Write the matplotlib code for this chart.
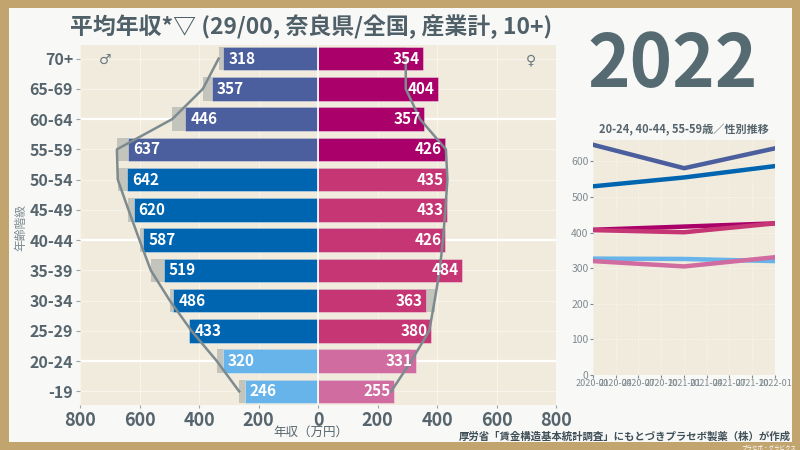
import matplotlib
matplotlib.use("Agg")
import matplotlib.pyplot as plt
import matplotlib.dates as mdates
from matplotlib.patches import Rectangle
import numpy as np
import pandas as pd

plt.rcParams['font.family'] = ['Noto Sans CJK JP', 'DejaVu Sans']

# --- data ---
ages = ['70+', '65-69', '60-64', '55-59', '50-54', '45-49', '40-44',
        '35-39', '30-34', '25-29', '20-24', '-19']
male = [318, 357, 446, 637, 642, 620, 587, 519, 486, 433, 320, 246]
female = [354, 404, 357, 426, 435, 433, 426, 484, 363, 380, 331, 255]
# national (全国) values, grey bars and grey outline
male_nat = [334, 387, 490, 676, 673, 637, 600, 562, 498, 425, 340, 265]
female_nat = [295, 295, 343, 430, 435, 428, 420, 409, 392, 374, 313, 246]

trend_dates = ['2020-01-01', '2021-01-01', '2022-01-01']
m_55_59 = [647, 581, 637]
m_40_44 = [530, 555, 587]
m_20_24 = [327, 326, 320]
f_55_59 = [408, 417, 426]
f_40_44 = [407, 401, 426]
f_20_24 = [320, 305, 331]

# colours per age group
male_cols = ['#4b5e9d'] * 4 + ['#0065b0'] * 6 + ['#66b4ea'] * 2
female_cols = ['#a9006a'] * 4 + ['#c63674'] * 6 + ['#d06ca0'] * 2

text_col = '#56656d'
bg_axes = '#f1ebdd'

fig = plt.figure(figsize=(8, 4.5), dpi=100)
fig.patch.set_facecolor('#c2a46e')
fig.patches.append(Rectangle((0.011, 0.018), 0.979, 0.965, transform=fig.transFigure,
                             facecolor='#f8f8f6', edgecolor='none', zorder=-10))

# --- main pyramid ---
ax = fig.add_axes([0.1, 0.1, 0.595, 0.8])
ax.set_facecolor(bg_axes)
y = np.arange(len(ages))
h = 0.78

for yy in y:
    ax.axhline(yy, color='#f7f4ec', lw=0.8, zorder=0)
for xx in range(-800, 801, 200):
    ax.axvline(xx, color='#f7f4ec', lw=0.8, zorder=0)
for yy in (2, 6, 10):
    ax.axhline(yy, color='white', lw=1.6, zorder=0.5)

ax.barh(y, [-v for v in male_nat], height=h, color='#c3c4bc', zorder=1)
ax.barh(y, female_nat, height=h, color='#c3c4bc', zorder=1)
ax.barh(y, [-v for v in male], height=h, color=male_cols, edgecolor='#ffffff80', lw=0.5, zorder=2)
ax.barh(y, female, height=h, color=female_cols, edgecolor='#ffffff80', lw=0.5, zorder=2)
ax.axvline(0, color='white', lw=1.2, zorder=2.5)

ax.plot([-v for v in male_nat], y, color='#7d8b8f', lw=1.8, zorder=3)
ax.plot(female_nat, y, color='#7d8b8f', lw=1.8, zorder=3)

for yy, m, f in zip(y, male, female):
    ax.text(-m + 17, yy, str(m), color='white', fontsize=11, fontweight='bold',
            ha='left', va='center', zorder=4)
    ax.text(f - 12, yy, str(f), color='white', fontsize=11, fontweight='bold',
            ha='right', va='center', zorder=4)

ax.set_xlim(-800, 800)
ax.set_ylim(len(ages) - 0.55, -0.45)
ax.set_yticks(y)
ax.set_yticklabels(ages)
ax.set_xticks(range(-800, 801, 200))
ax.set_xticklabels([str(abs(v)) for v in range(-800, 801, 200)])
ax.tick_params(axis='y', labelsize=11.5, colors=text_col, length=3, color='#9aa5aa', pad=2)
ax.tick_params(axis='x', labelsize=13, colors=text_col, length=2, color='#9aa5aa', pad=2)
for lab in ax.get_yticklabels() + ax.get_xticklabels():
    lab.set_fontweight('bold')
for s in ax.spines.values():
    s.set_visible(False)

ax.text(-715, 0.05, '♂', fontsize=10, color='#6a7a80', ha='center', va='center',
        family=['DejaVu Sans'])
ax.text(715, 0.05, '♀', fontsize=10, color='#6a7a80', ha='center', va='center',
        family=['DejaVu Sans'])

fig.text(0.389, 0.04, '年収（万円）', fontsize=9, color=text_col, ha='center', va='center')
fig.text(0.026, 0.495, '年齢階級', fontsize=8.5, color='#7a8a90', ha='center', va='center',
         rotation=90)

fig.text(0.389, 0.94, '平均年収*▽ (29/00, 奈良県/全国, 産業計, 10+)', fontsize=16.5,
         fontweight='bold', color='#4f6069', ha='center', va='center')

fig.text(0.841, 0.853, '2022', fontsize=52, fontweight='bold', color='#566a72',
         ha='center', va='center')

# --- small trend chart ---
ax2 = fig.add_axes([0.741, 0.1667, 0.228, 0.522])
ax2.set_facecolor(bg_axes)
dates = pd.to_datetime(trend_dates)
series = [(m_55_59, '#4b5e9d'), (m_40_44, '#0065b0'), (m_20_24, '#66b4ea'),
          (f_55_59, '#a9006a'), (f_40_44, '#c63674'), (f_20_24, '#d06ca0')]
for vals, c in series:
    ax2.plot(dates, vals, color=c, lw=3.2)
ax2.set_xlim(dates[0], dates[-1])
ax2.set_ylim(0, 660)
ax2.set_yticks(range(0, 601, 100))
ax2.xaxis.set_major_locator(mdates.MonthLocator(bymonth=[1, 4, 7, 10]))
ax2.xaxis.set_major_formatter(mdates.DateFormatter('%Y-%m'))
ax2.tick_params(axis='y', labelsize=7.5, colors='#7f8a90', length=2, pad=1)
ax2.tick_params(axis='x', labelsize=6.5, colors='#7f8a90', length=2, pad=1)
ax2.grid(True, color='#fbf8f0', lw=0.7, ls=':')
for s in ax2.spines.values():
    s.set_visible(False)
ax2.set_title('20-24, 40-44, 55-59歳／性別推移', fontsize=8, fontweight='bold',
              color=text_col, pad=5)

fig.text(0.988, 0.029, '厚労省「賃金構造基本統計調査」にもとづきプラセボ製薬（株）が作成',
         fontsize=7.5, fontweight='bold', color='#3f4f58', ha='right', va='center')
fig.text(0.995, 0.006, 'プラセボ・グラビクス', fontsize=4, color='white',
         ha='right', va='center')

fig.savefig('out.png', dpi=100, facecolor=fig.get_facecolor())
